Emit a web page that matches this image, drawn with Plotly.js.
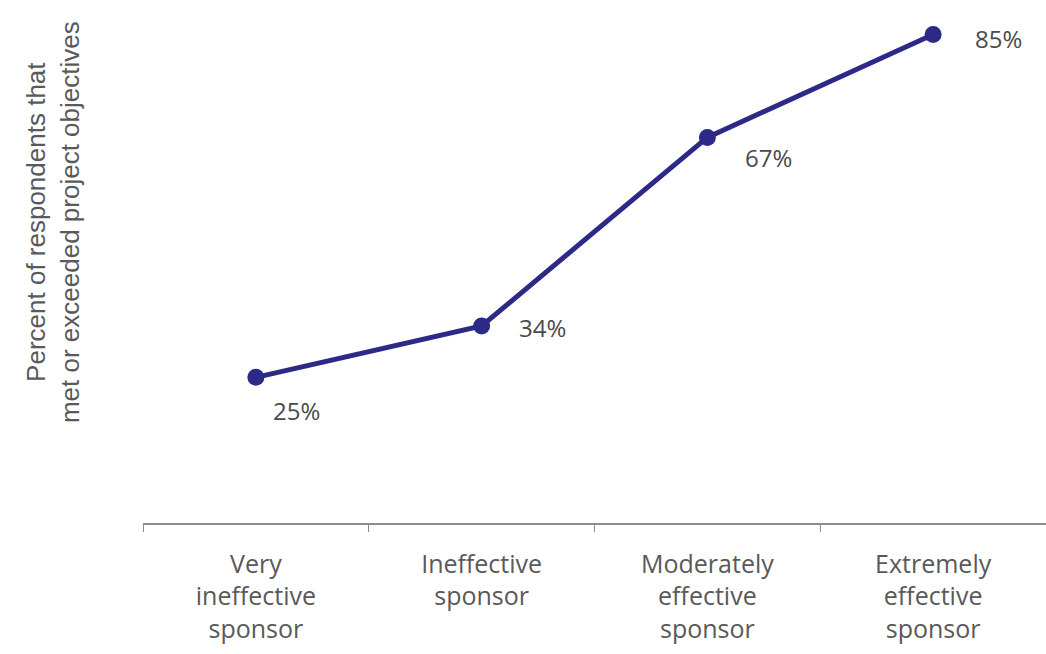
<!DOCTYPE html>
<html>
<head>
<meta charset="utf-8">
<script src="https://cdn.plot.ly/plotly-3.0.1.min.js"></script>
<style>html,body{margin:0;padding:0;background:#fff;}#chart{width:1046px;height:654px;}</style>
</head>
<body>
<div id="chart"></div>
<script>
const categories = ["Very<br>ineffective<br>sponsor", "Ineffective<br>sponsor", "Moderately<br>effective<br>sponsor", "Extremely<br>effective<br>sponsor"];
const values = [25, 34, 67, 85];
const valueLabels = ["25%", "34%", "67%", "85%"];
const yTitle = "Percent of respondents that<br>met or exceeded project objectives";

const labelShifts = [
  {xs: 15, ys: -33},
  {xs: 35, ys: -2},
  {xs: 36, ys: -20},
  {xs: 40, ys: -4}
];

const annotations = values.map((v, i) => ({
  x: categories[i], y: v, xref: 'x', yref: 'y',
  text: valueLabels[i], showarrow: false,
  xanchor: 'left', yanchor: 'middle',
  xshift: labelShifts[i].xs, yshift: labelShifts[i].ys,
  font: {family: 'Open Sans, sans-serif', size: 24, color: '#4a4a4a'}
}));

annotations.push({
  text: yTitle, xref: 'paper', yref: 'paper', x: -0.0997, y: 0.582,
  xanchor: 'center', yanchor: 'middle', textangle: -90, showarrow: false,
  font: {family: 'Liberation Sans, Arial, sans-serif', size: 26, color: '#595959'}
});

const trace = {
  x: categories, y: values, type: 'scatter', mode: 'lines+markers',
  line: {color: '#2d2a87', width: 5},
  marker: {color: '#2d2a87', size: 17},
  hoverinfo: 'skip'
};

const layout = {
  width: 1046, height: 654,
  margin: {l: 143, r: 0, t: 6, b: 131},
  paper_bgcolor: '#ffffff', plot_bgcolor: '#ffffff',
  showlegend: false,
  xaxis: {
    type: 'category', range: [-0.5, 3.5],
    showline: true, linecolor: '#8c8c8c', linewidth: 1.5,
    ticks: 'outside', tickson: 'boundaries', ticklen: 7, tickcolor: '#8c8c8c', tickwidth: 1,
    showgrid: false, zeroline: false,
    tickfont: {family: 'Open Sans, sans-serif', size: 25, color: '#595959'},
    ticklabelstandoff: 18
  },
  yaxis: {
    range: [-0.5, 90], showline: false, showgrid: false, zeroline: false,
    showticklabels: false, ticks: ''
  },
  annotations: annotations
};

Plotly.newPlot('chart', [trace], layout, {displayModeBar: false, staticPlot: true});
</script>
</body>
</html>
